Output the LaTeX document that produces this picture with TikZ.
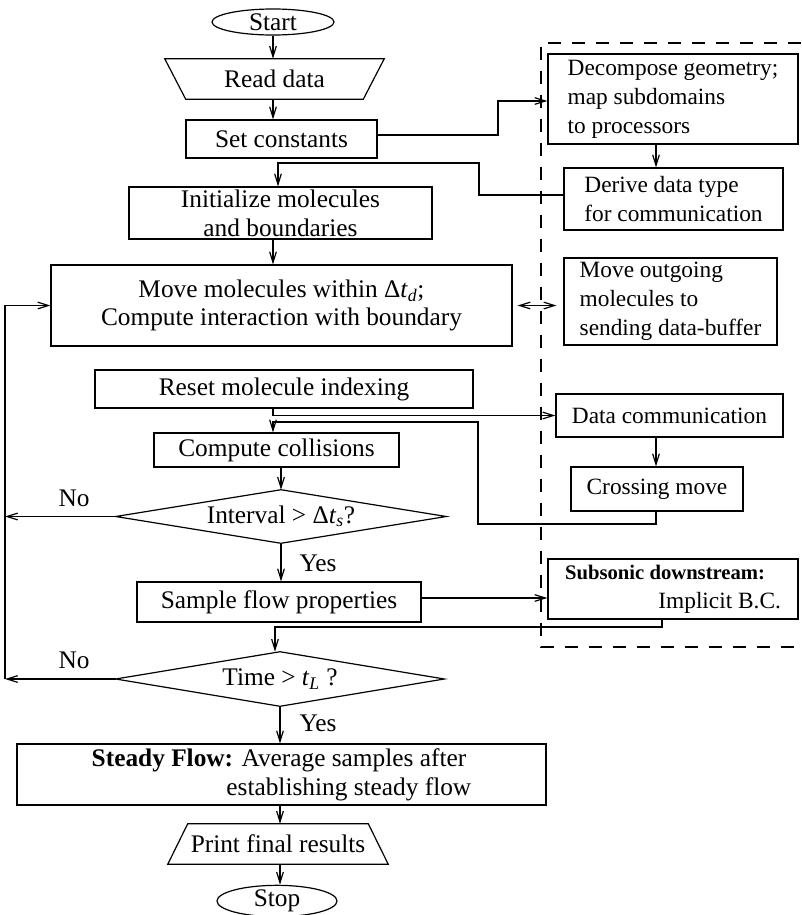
\documentclass[tikz,border=0pt]{standalone}
\usepackage{fontspec}
\setmainfont{Liberation Serif}
\usetikzlibrary{arrows.meta,shapes.geometric}
\newlength{\pxu}\setlength{\pxu}{0.75pt}
\begin{document}
\begin{tikzpicture}[x=0.75pt,y=-0.75pt,
  txt/.style={font=\fontsize{19}{21.5}\selectfont, inner sep=0pt},
  mybox/.style={txt, draw, rectangle, line width=0.9pt, align=center},
  rbox/.style={mybox, font=\fontsize{17.5}{21.75}\selectfont, align=left},
  invis/.style={txt, rectangle, align=center},
  term/.style={txt, draw, ellipse, line width=0.9pt},
  arr/.style={line width=0.9pt, -{Straight Barb[length=8pt,width=5pt]}},
  ln/.style={line width=0.9pt},
  bnd/.style={line width=0.9pt, dash pattern=on 13\pxu off 11\pxu},
  shp/.style={line width=0.9pt}]
\useasboundingbox (0,0) rectangle (801,915);

% main column
\node[term, minimum width=122\pxu, minimum height=26\pxu] (start) at (273,22) {Start};
\node[invis, minimum width=219\pxu, minimum height=40\pxu] (read) at (274.5,79) {Read data};
\draw[shp] (read.north west) -- (read.north east) -- ([xshift=-21\pxu]read.south east) -- ([xshift=21\pxu]read.south west) -- cycle;
\node[mybox, minimum width=191\pxu, minimum height=38\pxu] (setc) at (281.5,139) {Set constants};
\node[mybox, minimum width=303\pxu, minimum height=52\pxu] (init) at (280.5,213) {Initialize molecules\\and boundaries};
\node[mybox, minimum width=461\pxu, minimum height=81\pxu] (move) at (281.5,305.5) {Move molecules within Δ\textit{t}\textsubscript{\textit{d}};\\Compute interaction with boundary};
\node[mybox, minimum width=378\pxu, minimum height=38\pxu] (reset) at (284,389) {Reset molecule indexing};
\node[mybox, minimum width=245\pxu, minimum height=34\pxu] (coll) at (276.5,450) {Compute collisions};
\node[invis, minimum width=330\pxu, minimum height=53\pxu] (int) at (281,516.5) {Interval > Δ\textit{t}\textsubscript{\textit{s}}?};
\draw[shp] (int.west) -- (int.north) -- (int.east) -- (int.south) -- cycle;
\node[mybox, minimum width=284\pxu, minimum height=40\pxu] (sample) at (279,602) {Sample flow properties};
\node[invis, minimum width=328\pxu, minimum height=54\pxu] (time) at (280,679) {Time > \textit{t}\textsubscript{\textit{L}} ?};
\draw[shp] (time.west) -- (time.north) -- (time.east) -- (time.south) -- cycle;
\node[mybox, align=left, minimum width=529\pxu, minimum height=61\pxu] (steady) at (281.5,774.5) {\textbf{Steady Flow:} Average samples after\\\hspace*{101pt}establishing steady flow};
\node[invis, minimum width=220\pxu, minimum height=40\pxu] (print) at (278,844) {Print final results};
\draw[shp] (print.south west) -- (print.south east) -- ([xshift=-20\pxu]print.north east) -- ([xshift=20\pxu]print.north west) -- cycle;
\node[term, minimum width=120\pxu, minimum height=26\pxu] (stop) at (277,901) {Stop};

% right column
\node[rbox, minimum width=250\pxu, minimum height=90\pxu] (dec) at (673,99) {Decompose geometry;\\map subdomains\\to processors};
\node[rbox, minimum width=219\pxu, minimum height=62\pxu] (der) at (673.5,199) {Derive data type\\for communication};
\node[rbox, minimum width=213\pxu, minimum height=87\pxu] (out) at (670.5,301.5) {Move outgoing\\molecules to\\sending data-buffer};
\node[rbox, minimum width=227\pxu, minimum height=43\pxu] (dat) at (669.5,415.5) {Data communication};
\node[rbox, minimum width=172\pxu, minimum height=44\pxu] (cross) at (657,489) {Crossing move};
\node[rbox, minimum width=250\pxu, minimum height=60\pxu] (sub) at (673,589) {{\bfseries\fontsize{15.5}{20}\selectfont Subsonic downstream:}\\\hspace*{70pt}Implicit B.C.};

% labels
\node[txt] (no1) at (74,498) {No};
\node[txt] (no2) at (74,660) {No};
\node[txt] (yes1) at (318,563) {Yes};
\node[txt] (yes2) at (318,723) {Yes};

% dashed boundary
\draw[bnd] (801,43) -- (541,43) -- (541,647) -- (801,647);

% helper coordinates
\coordinate (ax) at (273,0);
\coordinate (b1) at (498,0);
\coordinate (b2) at (656,0);
\coordinate (b3) at (479,163);
\coordinate (b4) at (278,163);
\coordinate (c0) at (656,524);
\coordinate (c1) at (478,422);
\coordinate (s1) at (662,0);
\coordinate (d1) at (275,627);
\coordinate (L) at (5,0);

% connectors
\draw[arr] (start.south -| ax) -- (read.north -| ax);
\draw[arr] (read.south -| ax) -- (setc.north -| ax);
\draw[arr] ([yshift=4\pxu]setc.east) -- ([yshift=4\pxu]setc.east -| b1) |- ([yshift=-2\pxu]dec.west);
\draw[arr] (dec.south -| b2) -- (der.north -| b2);
\draw[arr] ([yshift=4\pxu]der.west) -| (b3) -- (b4) -- (b4 |- init.north);
\draw[arr] (init.south -| ax) -- (move.north -| ax);
\draw[ln, {Straight Barb[length=8pt,width=5pt]}-{Straight Barb[length=8pt,width=5pt]}, shorten <=5\pxu, shorten >=7\pxu] (move.east) -- (move.east -| out.west);
\draw[arr] (reset.south -| ax) |- (dat.west);
\draw[arr] (dat.south -| b2) -- (cross.north -| b2);
\draw[arr] (cross.south -| b2) -- (c0) -| (c1) -- (c1 -| ax) -- (coll.north -| ax);
\draw[arr] (coll.south -| int.north) -- (int.north);
\draw[arr] (int.west) -- (int.west -| L);
\draw[arr] (int.south) -- (int.south |- sample.north);
\draw[arr] ([yshift=4\pxu]sample.east) -- ([yshift=4\pxu]sample.east -| sub.west);
\draw[arr] (sub.south -| s1) |- (d1) -- (d1 |- time.north);
\draw[arr] (time.west) -- (time.west -| L);
\draw[arr] (time.west -| L) |- (move.west);
\draw[arr] (time.south) -- (time.south |- steady.north);
\draw[arr] (steady.south -| time.south) -- (print.north -| time.south);
\draw[arr] (print.south -| time.south) -- (stop.north -| time.south);
\end{tikzpicture}
\end{document}
